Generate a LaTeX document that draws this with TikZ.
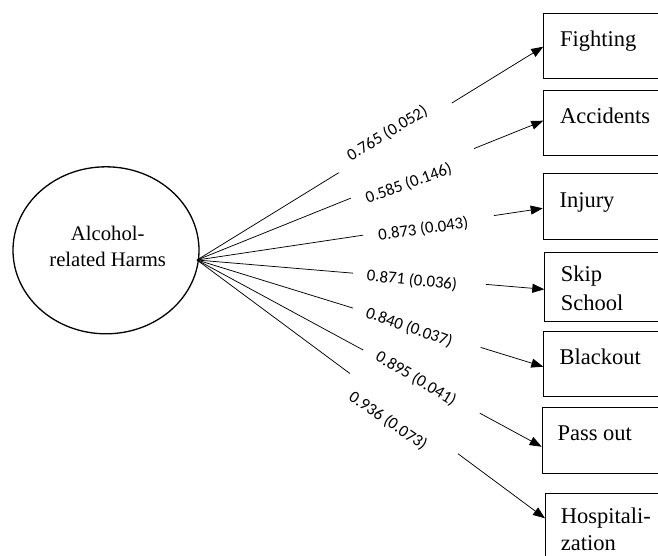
\documentclass[tikz,border=0pt]{standalone}
\usepackage{fontspec}
\setmainfont{Liberation Serif}
\newfontfamily\labfont{Carlito}
\usetikzlibrary{arrows.meta,shapes.geometric,calc}
\begin{document}
\begin{tikzpicture}[x=1pt,y=-1pt,
  conn/.style={line width=0.75pt},
  arr/.style={line width=0.75pt,-{Triangle[length=12pt,width=9pt]}},
  itembox/.style={draw,line width=0.8pt,anchor=north west,minimum width=140pt,inner sep=0pt},
  itemtext/.style={anchor=base west,inner sep=0pt,font=\fontsize{22.5}{28}\selectfont},
  harmtext/.style={anchor=base,inner sep=0pt,font=\fontsize{20.7}{26}\selectfont},
  lab/.style={inner sep=0pt,font=\labfont\fontsize{16.8}{20}\selectfont}]
\clip (0,0) rectangle (658,555);
\fill[white] (0,0) rectangle (658,555);

% latent variable
\node[draw,ellipse,line width=1.3pt,minimum width=186pt,minimum height=167pt,inner sep=0pt] (harm) at (106,250.3) {};
\node[harmtext] (h1) at (107.7,240.7) {Alcohol-};
\node[harmtext] (h2) at (107.7,266.7) {related Harms};
\coordinate (o) at (197,260);

% indicator boxes
\node[itembox,minimum height=65.6pt] (bF) at (543.3,12.7) {};
\node[itembox,minimum height=65pt]   (bA) at (543.3,90) {};
\node[itembox,minimum height=65.7pt] (bI) at (542.7,173.3) {};
\node[itembox,minimum height=68.7pt] (bS) at (544.3,252.3) {};
\node[itembox,minimum height=65.3pt] (bB) at (543.3,330.7) {};
\node[itembox,minimum height=65.4pt] (bP) at (541.7,407.3) {};
\node[itembox,minimum height=80pt]   (bH) at (545,492.7) {};

\node[itemtext] (xF) at (560,46.7) {Fighting};
\node[itemtext] (xA) at (560,123.3) {Accidents};
\node[itemtext] (xI) at (559.3,207.3) {Injury};
\node[itemtext] (xS1) at (560.7,281.7) {Skip};
\node[itemtext] (xS2) at (560.7,310.5) {School};
\node[itemtext] (xB) at (559.3,364) {Blackout};
\node[itemtext] (xP) at (557.3,440.7) {Pass out};
\node[itemtext] (xH1) at (560.7,523.3) {Hospitali-};
\node[itemtext] (xH2) at (560.7,550.7) {zation};

% arrow tips on the boxes
\coordinate (tF) at (bF.west |- 0,46.7);
\coordinate (tA) at (bA.west |- 0,120.7);
\coordinate (tI) at (bI.west |- 0,208.3);
\coordinate (tS) at (bS.west |- 0,289.3);
\coordinate (tB) at (bB.west |- 0,366.7);
\coordinate (tP) at (bP.west |- 0,446.7);
\coordinate (tH) at (bH.west |- 0,518.3);

% connectors (interrupted by their labels)
\draw[conn] (o) -- ($(o)!0.4095!(tF)$);
\draw[arr] ($(o)!0.7357!(tF)$) -- (tF);
\draw[conn] (o) -- ($(o)!0.4439!(tA)$);
\draw[arr] ($(o)!0.7999!(tA)$) -- (tA);
\draw[conn] (o) -- ($(o)!0.4807!(tI)$);
\draw[arr] ($(o)!0.859!(tI)$) -- (tI);
\draw[conn] (o) -- ($(o)!0.4488!(tS)$);
\draw[arr] ($(o)!0.8319!(tS)$) -- (tS);
\draw[conn] (o) -- ($(o)!0.4508!(tB)$);
\draw[arr] ($(o)!0.8191!(tB)$) -- (tB);
\draw[conn] (o) -- ($(o)!0.4824!(tP)$);
\draw[arr] ($(o)!0.8203!(tP)$) -- (tP);
\draw[conn] (o) -- ($(o)!0.4395!(tH)$);
\draw[arr] ($(o)!0.75!(tH)$) -- (tH);

% loadings
\node[lab,rotate=31.2]  (lF) at (387.3,133.3) {0.765 (0.052)};
\node[lab,rotate=20]    (lA) at (408.7,183.7) {0.585 (0.146)};
\node[lab,rotate=8.3]   (lI) at (423.3,229.2) {0.873 (0.043)};
\node[lab,rotate=-6]    (lS) at (412,280.5) {0.871 (0.036)};
\node[lab,rotate=-19.5] (lB) at (409.2,327.5) {0.840 (0.037)};
\node[lab,rotate=-31]   (lP) at (416,378.7) {0.895 (0.041)};
\node[lab,rotate=-34.6] (lH) at (388,420.8) {0.936 (0.073)};
\end{tikzpicture}
\end{document}
